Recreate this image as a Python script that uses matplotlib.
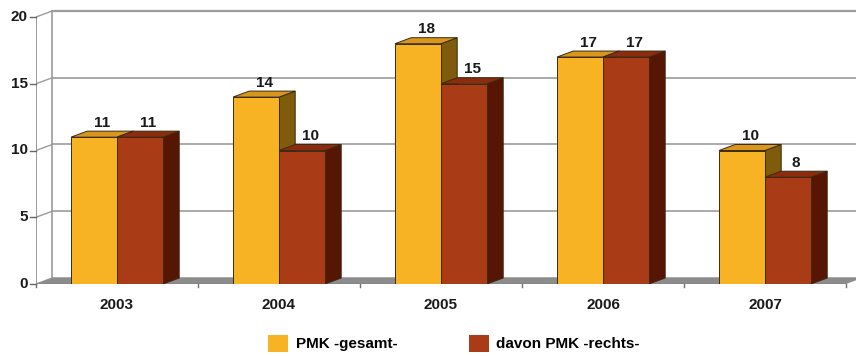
"""
PMK cases per year, gesamt vs. rechts, as a pseudo-3D grouped bar chart.
"""
import matplotlib
matplotlib.use("Agg")
import matplotlib.pyplot as plt
from matplotlib.patches import Polygon, Patch
from matplotlib import font_manager

years = ["2003", "2004", "2005", "2006", "2007"]
pmk_gesamt = [11, 14, 18, 17, 10]
pmk_rechts = [11, 10, 15, 17, 8]
series_labels = ["PMK -gesamt-", "davon PMK -rechts-"]
y_ticks = [0, 5, 10, 15, 20]

# face colours: front, top, side
YELLOW = ("#f8b324", "#d9961c", "#7e5c0c")
RED = ("#a93c17", "#8c2c0d", "#571604")

names = {f.name for f in font_manager.fontManager.ttflist}
FONT = ["Liberation Sans Narrow"] if "Liberation Sans Narrow" in names else []
FONT += ["Liberation Sans", "DejaVu Sans"]
plt.rcParams["font.family"] = FONT
plt.rcParams["font.weight"] = "bold"

# depth offset of the 3D look, in data units
DX, DY = 0.1, 0.45
BAR_W = 0.284


def box(ax, x0, h, colors):
    x1 = x0 + BAR_W
    front, top, side = colors
    ec = "#3b2a12"
    ax.add_patch(Polygon([(x1, 0), (x1 + DX, DY), (x1 + DX, h + DY), (x1, h)],
                         closed=True, fc=side, ec=ec, lw=0.7, zorder=3))
    ax.add_patch(Polygon([(x0, h), (x1, h), (x1 + DX, h + DY), (x0 + DX, h + DY)],
                         closed=True, fc=top, ec=ec, lw=0.7, zorder=3))
    ax.add_patch(Polygon([(x0, 0), (x1, 0), (x1, h), (x0, h)],
                         closed=True, fc=front, ec=ec, lw=0.7, zorder=3))
    ax.text(x0 + BAR_W / 2 + DX / 2, h + DY + 0.1, str(h), ha="center",
            va="bottom", fontsize=11, color="#1a1a1a", zorder=4)


def main():
    fig = plt.figure(figsize=(8.56, 3.56), dpi=100)
    W, H = 856, 356
    left_px, zero_px, top_px = 36, 284, 4
    ax = fig.add_axes([left_px / W, (H - zero_px) / H,
                       (W - left_px) / W, (zero_px - top_px) / H])
    n = len(years)
    ax.set_xlim(0, (W - left_px) / 162)
    ax.set_ylim(0, (zero_px - top_px) / 13.35)
    ax.axis("off")

    # back wall grid and left wall
    xr = ax.get_xlim()[1] + 1
    grid = "#9c9c9c"
    for t in y_ticks:
        lw = 1.6 if t == y_ticks[-1] else 1.2
        ax.plot([DX, xr], [t + DY, t + DY], color=grid, lw=lw, zorder=1,
                clip_on=False)
        ax.plot([0, DX], [t, t + DY], color=grid, lw=1.0, zorder=1)
        ax.plot([-0.035, 0], [t, t], color="#666666", lw=1.0, clip_on=False)
        ax.text(-0.05, t, str(t), ha="right", va="center", fontsize=11,
                color="#1a1a1a")
    ax.plot([DX, DX], [DY, y_ticks[-1] + DY], color=grid, lw=1.2, zorder=1)
    ax.plot([0, 0], [0, y_ticks[-1]], color="#8a8a8a", lw=1.2, zorder=1)

    # floor
    ax.add_patch(Polygon([(0, 0), (n, 0), (n + DX, DY), (DX, DY)], closed=True,
                         fc="#8c8c8c", ec="none", zorder=2))
    ax.plot([0, n], [0, 0], color="#6f6f6f", lw=1.0, zorder=2)

    for i in range(n + 1):
        ax.plot([i, i], [0, -0.25], color="#6f6f6f", lw=1.0, clip_on=False)

    for i, (g, r) in enumerate(zip(pmk_gesamt, pmk_rechts)):
        c = i + 0.5
        box(ax, c - BAR_W, g, YELLOW)
        box(ax, c, r, RED)
        ax.text(c, -1.55, years[i], ha="center", va="center", fontsize=11,
                color="#1a1a1a")

    handles = [Patch(fc=YELLOW[0], ec="none"), Patch(fc=RED[0], ec="none")]
    fig.legend(handles, series_labels, loc="center left", ncol=2,
               bbox_to_anchor=(268 / W, 0.036), frameon=False, fontsize=11,
               borderpad=0, borderaxespad=0,
               handlelength=1.3, handleheight=1.3, handletextpad=0.5,
               columnspacing=4.7)

    fig.savefig("out.png", dpi=100)


if __name__ == "__main__":
    main()
